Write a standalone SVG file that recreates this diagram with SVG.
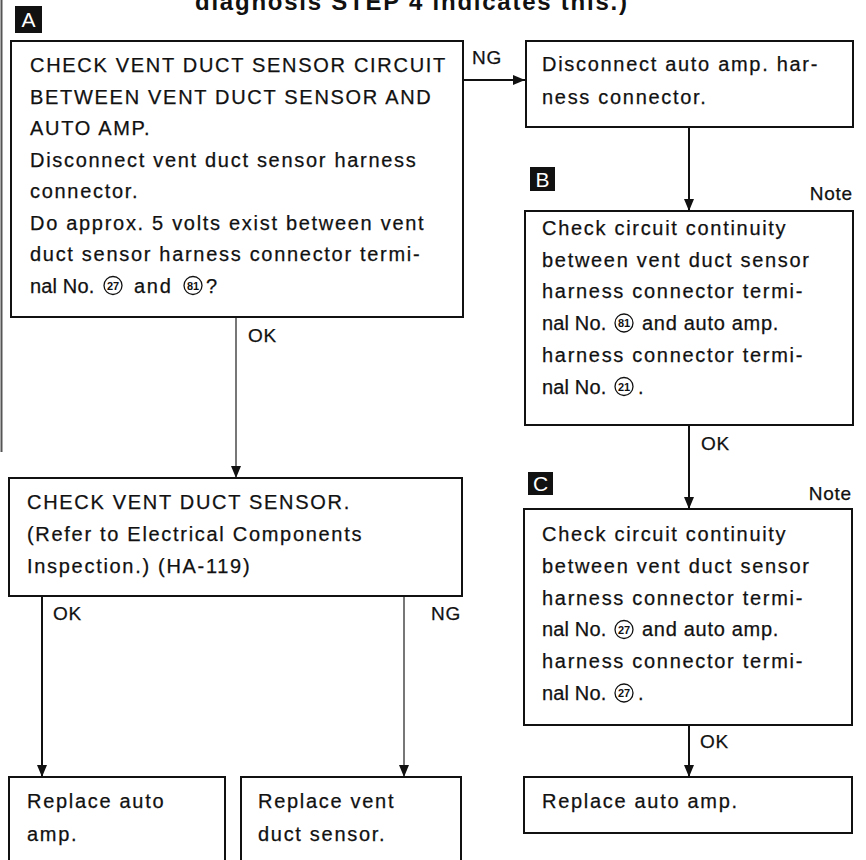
<svg xmlns="http://www.w3.org/2000/svg" width="866" height="860" viewBox="0 0 866 860">
  <defs>
    <style>
      .box { fill: #ffffff; stroke: #111111; stroke-width: 2; }
      .t { font-family: "Liberation Sans", Arial, sans-serif; font-size: 20px; letter-spacing: 1.7px; fill: #111111; stroke: #111111; stroke-width: 0.25; }
      .lbl { font-family: "Liberation Sans", Arial, sans-serif; font-size: 19px; letter-spacing: 0.8px; fill: #111111; stroke: #111111; stroke-width: 0.25; }
      .head { font-family: "Liberation Sans", Arial, sans-serif; font-size: 24px; font-weight: bold; fill: #111111; }
      .tag { fill: #111111; }
      .tagt { font-family: "Liberation Sans", Arial, sans-serif; font-size: 21px; fill: #ffffff; text-anchor: middle; }
      .circ { fill: none; stroke: #111111; stroke-width: 1.3; }
      .cnum { font-family: "Liberation Sans Narrow", "Liberation Sans", Arial, sans-serif; font-size: 11px; font-weight: bold; fill: #111111; text-anchor: middle; }
      .wire { fill: none; stroke: #111111; stroke-width: 2; }
      .wire-lt { fill: none; stroke: #555555; stroke-width: 1.6; }
    </style>
    <marker id="arrow" viewBox="0 0 12 10" refX="12" refY="5" markerWidth="12" markerHeight="10" markerUnits="userSpaceOnUse" orient="auto">
      <path d="M0,0 L12,5 L0,10 z" fill="#111111"/>
    </marker>
  </defs>

  <rect width="866" height="860" fill="#ffffff"/>

  <!-- page edge rule on the left -->
  <line x1="1.5" y1="0" x2="1.5" y2="452" stroke="#555555" stroke-width="2"/>

  <!-- heading, cut at the top edge -->
  <text class="head" x="195" y="10" textLength="432" lengthAdjust="spacing">diagnosis STEP 4 indicates this.)</text>

  <!-- section tags -->
  <g id="tag-a">
    <rect class="tag" x="15" y="6" width="27" height="27"/>
    <text class="tagt" x="28.5" y="27">A</text>
  </g>
  <g id="tag-b">
    <rect class="tag" x="530" y="167" width="25" height="24"/>
    <text class="tagt" x="542.5" y="187">B</text>
  </g>
  <g id="tag-c">
    <rect class="tag" x="528" y="472" width="25" height="23"/>
    <text class="tagt" x="540.5" y="491">C</text>
  </g>

  <!-- connectors -->
  <g id="connectors">
    <line class="wire" x1="463" y1="80" x2="525" y2="80" marker-end="url(#arrow)"/>
    <text class="lbl" x="472" y="64">NG</text>

    <line class="wire" x1="689" y1="127" x2="689" y2="211" marker-end="url(#arrow)"/>
    <text class="lbl" x="853" y="200" text-anchor="end">Note</text>

    <line class="wire" x1="689" y1="425" x2="689" y2="509" marker-end="url(#arrow)"/>
    <text class="lbl" x="701" y="450">OK</text>
    <text class="lbl" x="852" y="500" text-anchor="end">Note</text>

    <line class="wire" x1="689" y1="725" x2="689" y2="777" marker-end="url(#arrow)"/>
    <text class="lbl" x="700" y="748">OK</text>

    <line class="wire-lt" x1="236" y1="317" x2="236" y2="478" marker-end="url(#arrow)"/>
    <text class="lbl" x="248" y="342">OK</text>

    <line class="wire" x1="42" y1="596" x2="42" y2="777" marker-end="url(#arrow)"/>
    <text class="lbl" x="53" y="620">OK</text>

    <line class="wire-lt" x1="404" y1="596" x2="404" y2="777" marker-end="url(#arrow)"/>
    <text class="lbl" x="461" y="620" text-anchor="end">NG</text>
  </g>

  <!-- step A: circuit check -->
  <g id="node-circuit-check">
    <rect class="box" x="11" y="41" width="452" height="276"/>
    <text class="t" x="30" y="72">CHECK VENT DUCT SENSOR CIRCUIT</text>
    <text class="t" x="30" y="103.5">BETWEEN VENT DUCT SENSOR AND</text>
    <text class="t" x="30" y="135">AUTO AMP.</text>
    <text class="t" x="30" y="166.5">Disconnect vent duct sensor harness</text>
    <text class="t" x="30" y="198">connector.</text>
    <text class="t" x="30" y="229.5">Do approx. 5 volts exist between vent</text>
    <text class="t" x="30" y="261">duct sensor harness connector termi-</text>
    <text class="t" x="30" y="292.5" textLength="66" lengthAdjust="spacing">nal No.</text>
    <circle class="circ" cx="113" cy="285.5" r="9"/>
    <text class="cnum" x="113" y="289.5">27</text>
    <text class="t" x="134" y="292.5">and</text>
    <circle class="circ" cx="193" cy="285.5" r="9"/>
    <text class="cnum" x="193" y="289.5">81</text>
    <text class="t" x="206" y="292.5">?</text>
  </g>

  <!-- disconnect auto amp connector -->
  <g id="node-disconnect-amp">
    <rect class="box" x="526" y="41" width="327" height="86"/>
    <text class="t" x="542" y="71">Disconnect auto amp. har-</text>
    <text class="t" x="542" y="104">ness connector.</text>
  </g>

  <!-- step B: continuity 81 - 21 -->
  <g id="node-continuity-81">
    <rect class="box" x="525" y="211" width="328" height="214"/>
    <text class="t" x="542" y="235">Check circuit continuity</text>
    <text class="t" x="542" y="266.7">between vent duct sensor</text>
    <text class="t" x="542" y="298.4">harness connector termi-</text>
    <text class="t" x="542" y="330.1" textLength="66" lengthAdjust="spacing">nal No.</text>
    <circle class="circ" cx="624" cy="323" r="9"/>
    <text class="cnum" x="624" y="327">81</text>
    <text class="t" x="642" y="330.1" textLength="138" lengthAdjust="spacing">and auto amp.</text>
    <text class="t" x="542" y="361.8">harness connector termi-</text>
    <text class="t" x="542" y="393.5" textLength="66" lengthAdjust="spacing">nal No.</text>
    <circle class="circ" cx="624" cy="386.5" r="9"/>
    <text class="cnum" x="624" y="390.5">21</text>
    <text class="t" x="638" y="393.5">.</text>
  </g>

  <!-- step C: continuity 27 - 27 -->
  <g id="node-continuity-27">
    <rect class="box" x="524" y="509" width="328" height="216"/>
    <text class="t" x="542" y="541">Check circuit continuity</text>
    <text class="t" x="542" y="572.8">between vent duct sensor</text>
    <text class="t" x="542" y="604.6">harness connector termi-</text>
    <text class="t" x="542" y="636.4" textLength="66" lengthAdjust="spacing">nal No.</text>
    <circle class="circ" cx="624" cy="629.5" r="9"/>
    <text class="cnum" x="624" y="633.5">27</text>
    <text class="t" x="642" y="636.4" textLength="138" lengthAdjust="spacing">and auto amp.</text>
    <text class="t" x="542" y="668.2">harness connector termi-</text>
    <text class="t" x="542" y="700" textLength="66" lengthAdjust="spacing">nal No.</text>
    <circle class="circ" cx="624" cy="693" r="9"/>
    <text class="cnum" x="624" y="697">27</text>
    <text class="t" x="638" y="700">.</text>
  </g>

  <!-- replace auto amp (right column) -->
  <g id="node-replace-amp-right">
    <rect class="box" x="524" y="777" width="328" height="56"/>
    <text class="t" x="542" y="808">Replace auto amp.</text>
  </g>

  <!-- sensor check -->
  <g id="node-sensor-check">
    <rect class="box" x="9" y="478" width="453" height="118"/>
    <text class="t" x="27" y="509">CHECK VENT DUCT SENSOR.</text>
    <text class="t" x="27" y="541">(Refer to Electrical Components</text>
    <text class="t" x="27" y="573">Inspection.) (HA-119)</text>
  </g>

  <!-- replace auto amp (left) -->
  <g id="node-replace-amp-left">
    <path class="box" d="M9,870 V777 H225 V870" fill="none"/>
    <text class="t" x="27" y="808">Replace auto</text>
    <text class="t" x="27" y="841">amp.</text>
  </g>

  <!-- replace vent duct sensor -->
  <g id="node-replace-sensor">
    <path class="box" d="M241,870 V777 H461 V870" fill="none"/>
    <text class="t" x="258" y="808">Replace vent</text>
    <text class="t" x="258" y="841">duct sensor.</text>
  </g>
</svg>
